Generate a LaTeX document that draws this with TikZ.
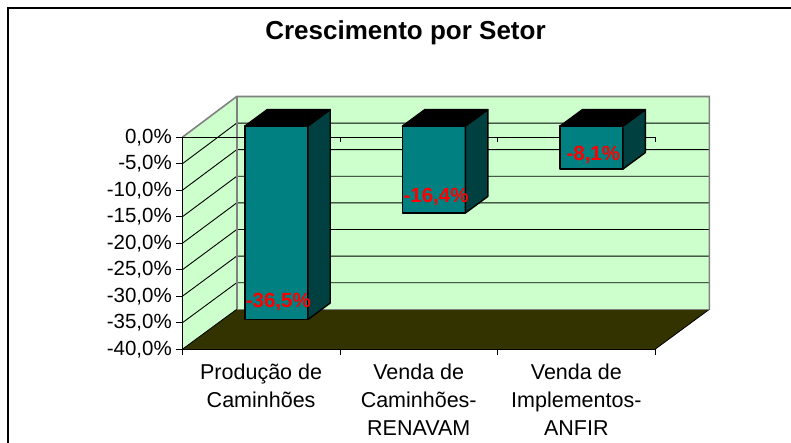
\documentclass[tikz,border=0pt]{standalone}
\usepackage{fontspec}
\setmainfont{Liberation Sans}
\definecolor{wallgreen}{HTML}{CCFFCC}
\definecolor{floorcol}{HTML}{333300}
\definecolor{barfront}{HTML}{008080}
\definecolor{barside}{HTML}{004040}
\definecolor{edgegray}{HTML}{808080}
\begin{document}
\begin{tikzpicture}[x=1pt,y=-1pt,
  grid/.style={black,line width=0.9pt},
  edge/.style={edgegray,line width=1.6pt},
  axisline/.style={black,line width=1pt},
  barline/.style={black,line width=1.4pt,line join=round},
  ticklabel/.style={anchor=east,inner sep=0pt,font=\fontsize{20.5}{24}\selectfont},
  catlabel/.style={anchor=north,inner sep=0pt,align=center,font=\fontsize{21.5}{28}\selectfont},
  vallabel/.style={inner sep=0pt,text=red,font=\bfseries\fontsize{20.5}{24}\selectfont},
]
\useasboundingbox (0,0) rectangle (791,443);
\fill[white] (0,0) rectangle (791,443);
% outer frame
\draw[black,line width=1.3pt] (8,443) -- (8,8) -- (791,8);
% title
\node[anchor=base,inner sep=0pt,font=\bfseries\fontsize{26}{30}\selectfont] (title) at (405.5,39.3) {Crescimento por Setor};
% walls
\fill[wallgreen] (182.3,137.3) -- (236.7,96.5) -- (236.7,309.3) -- (182.3,349.3) -- cycle;
\fill[wallgreen] (236.7,96.5) rectangle (709.4,309.3);
% gridlines
\foreach \k in {1,...,7}{
  \draw[grid] (182.3,137.3+\k*26.5) -- (236.7,96.5+\k*26.6) -- (709.4,96.5+\k*26.6);
}
% wall edges
\draw[edge] (182.3,137.3) -- (236.7,96.5) -- (709.4,96.5) -- (709.4,309.3);
\draw[edge] (236.7,96.5) -- (236.7,309.3);
% floor
\fill[floorcol] (182.3,349.3) -- (655,349.3) -- (709.4,309.3) -- (236.7,309.3) -- cycle;
\draw[black,line width=0.8pt] (655,349.3) -- (709.4,309.3);
\draw[black,line width=0.8pt] (182.3,349.3) -- (236.7,309.3);
\draw[edge] (236.7,309.3) -- (709.4,309.3);
% zero line with ticks
\draw[axisline] (182.3,137.3) -- (655,137.3);
\foreach \x in {340,497.6,655}{
  \draw[axisline] (\x,137.3) -- (\x,142.5);
}
% value axis
\draw[axisline] (182.3,137.3) -- (182.3,349.3);
\foreach \k/\t in {0/{0,0\%},1/{-5,0\%},2/{-10,0\%},3/{-15,0\%},4/{-20,0\%},5/{-25,0\%},6/{-30,0\%},7/{-35,0\%},8/{-40,0\%}}{
  \draw[axisline] (176,137.3+\k*26.5) -- (182.3,137.3+\k*26.5);
  \node[ticklabel] (yl\k) at (172,137.3+\k*26.5) {\t};
}
% category axis
\draw[axisline] (182.3,349.3) -- (655,349.3);
\foreach \x in {182.3,340,497.6,655}{
  \draw[axisline] (\x,349.3) -- (\x,354.5);
}
% bars
\foreach \c/\v/\n in {261.1/36.5/a,418.7/16.4/b,576.3/8.1/c}{
  \pgfmathsetmacro{\xl}{\c+15.2-31.5}
  \pgfmathsetmacro{\xr}{\c+15.2+31.5}
  \pgfmathsetmacro{\yt}{126.1}
  \pgfmathsetmacro{\yb}{137.3+\v/5*26.5-11.2}
  \filldraw[barline,fill=barfront] (\xl,\yt) rectangle (\xr,\yb);
  \filldraw[barline,fill=barside] (\xr,\yt) -- (\xr+22.4,\yt-16.5) -- (\xr+22.4,\yb-16.5) -- (\xr,\yb) -- cycle;
  \filldraw[barline,fill=black] (\xl,\yt) -- (\xl+22.4,\yt-16.5) -- (\xr+22.4,\yt-16.5) -- (\xr,\yt) -- cycle;
}
% value labels
\node[vallabel] (va) at (278.3,301.7) {-36,5\%};
\node[vallabel] (vb) at (436,196.7) {-16,4\%};
\node[vallabel] (vc) at (593.3,155) {-8,1\%};
% category labels
\node[catlabel] (ca) at (261.1,363.3) {Produção de\\Caminhões};
\node[catlabel] (cb) at (418.7,363.3) {Venda de\\Caminhões-\\RENAVAM};
\node[catlabel] (cc) at (576.3,363.3) {Venda de\\Implementos-\\ANFIR};
\end{tikzpicture}
\end{document}
